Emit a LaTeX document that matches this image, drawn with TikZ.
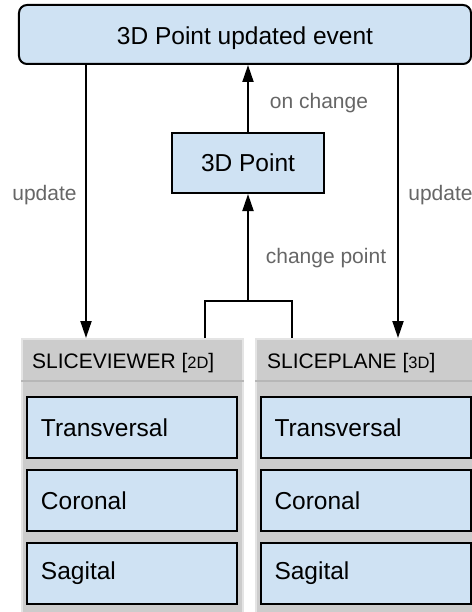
\documentclass[tikz,border=0pt]{standalone}
\usepackage{fontspec}
\setmainfont{Liberation Sans}
\usetikzlibrary{arrows.meta,calc}
\definecolor{boxblue}{HTML}{CFE2F3}
\definecolor{panelgray}{HTML}{CCCCCC}
\definecolor{paneledge}{HTML}{E4E4E4}
\definecolor{sepgray}{HTML}{B7B7B7}
\definecolor{labelgray}{HTML}{666666}
\tikzset{
  bluebox/.style={draw=black, fill=boxblue, line width=2bp, inner sep=0pt,
    font=\fontsize{24.5bp}{28bp}\selectfont},
  itembox/.style={bluebox, minimum width=210bp, minimum height=61bp,
    inner xsep=14bp, text width=182bp, align=left},
  panel/.style={draw=paneledge, fill=panelgray, line width=1.5bp, inner sep=0pt,
    anchor=north west, minimum height=290bp},
  headtxt/.style={anchor=west, inner sep=0pt, font=\fontsize{21bp}{24bp}\selectfont},
  lbl/.style={text=labelgray, inner sep=0pt, font=\fontsize{21bp}{24bp}\selectfont},
  conn/.style={line width=2bp, draw=black},
  arr/.style={conn, -{Triangle[width=11bp,length=17bp]}},
  sepline/.style={draw=sepgray, line width=2bp}
}
\newcommand{\smallcap}[1]{{\fontsize{16.5bp}{18bp}\selectfont #1}}
\begin{document}
\begin{tikzpicture}[x=1bp,y=-1bp]
\clip (0,0) rectangle (472,612);
% top event box
\node[bluebox, rounded corners=8bp, minimum width=452bp, minimum height=59bp,
  text height=21bp, text depth=0bp] (top) at (245,34.5) {3D Point updated event};
% 3D point
\node[bluebox, minimum width=152bp, minimum height=60bp] (pt) at (248,163) {3D Point};
% panels
\node[panel, minimum width=221bp] (sv) at (21,338) {};
\node[panel, minimum width=230bp] (sp) at (255,338) {};
\draw[sepline] ([yshift=-43bp]sv.north west) -- ([yshift=-43bp]sv.north east);
\draw[sepline] ([yshift=-43bp]sp.north west) -- ([yshift=-43bp]sp.north east);
\node[headtxt] (svh) at (32,363.5) {SLICEVIEWER [\smallcap{2D}]};
\node[headtxt] (sph) at (267,363.5) {SLICEPLANE [\smallcap{3D}]};
% items
\node[itembox] (svt) at (132,427.5) {Transversal};
\node[itembox] (svc) at (132,500.5) {Coronal};
\node[itembox] (svs) at (132,573) {Sagital};
\node[itembox] (spt) at (365.5,427.5) {Transversal};
\node[itembox] (spc) at (365.5,500.5) {Coronal};
\node[itembox] (sps) at (365.5,573) {Sagital};
% connectors
\coordinate (ul) at (86,0);
\coordinate (ur) at (398,0);
\draw[arr] (ul |- top.south) -- (ul |- sv.north);
\draw[arr] (ur |- top.south) -- (ur |- sp.north);
\draw[arr] (pt.north) -- (pt.north |- top.south);
\coordinate (bj) at (248,301);
\coordinate (bla) at (205,0);
\coordinate (bra) at (292,0);
\draw[conn] (bla |- sv.north) |- (bj) -| (bra |- sp.north);
\draw[arr] (bj) -- (pt.south);
% labels
\node[lbl] (lu) at (44.5,195) {update};
\node[lbl] (ru) at (440.5,195) {update};
\node[lbl] (oc) at (319,103) {on change};
\node[lbl] (cp) at (326,258) {change point};
\end{tikzpicture}
\end{document}
